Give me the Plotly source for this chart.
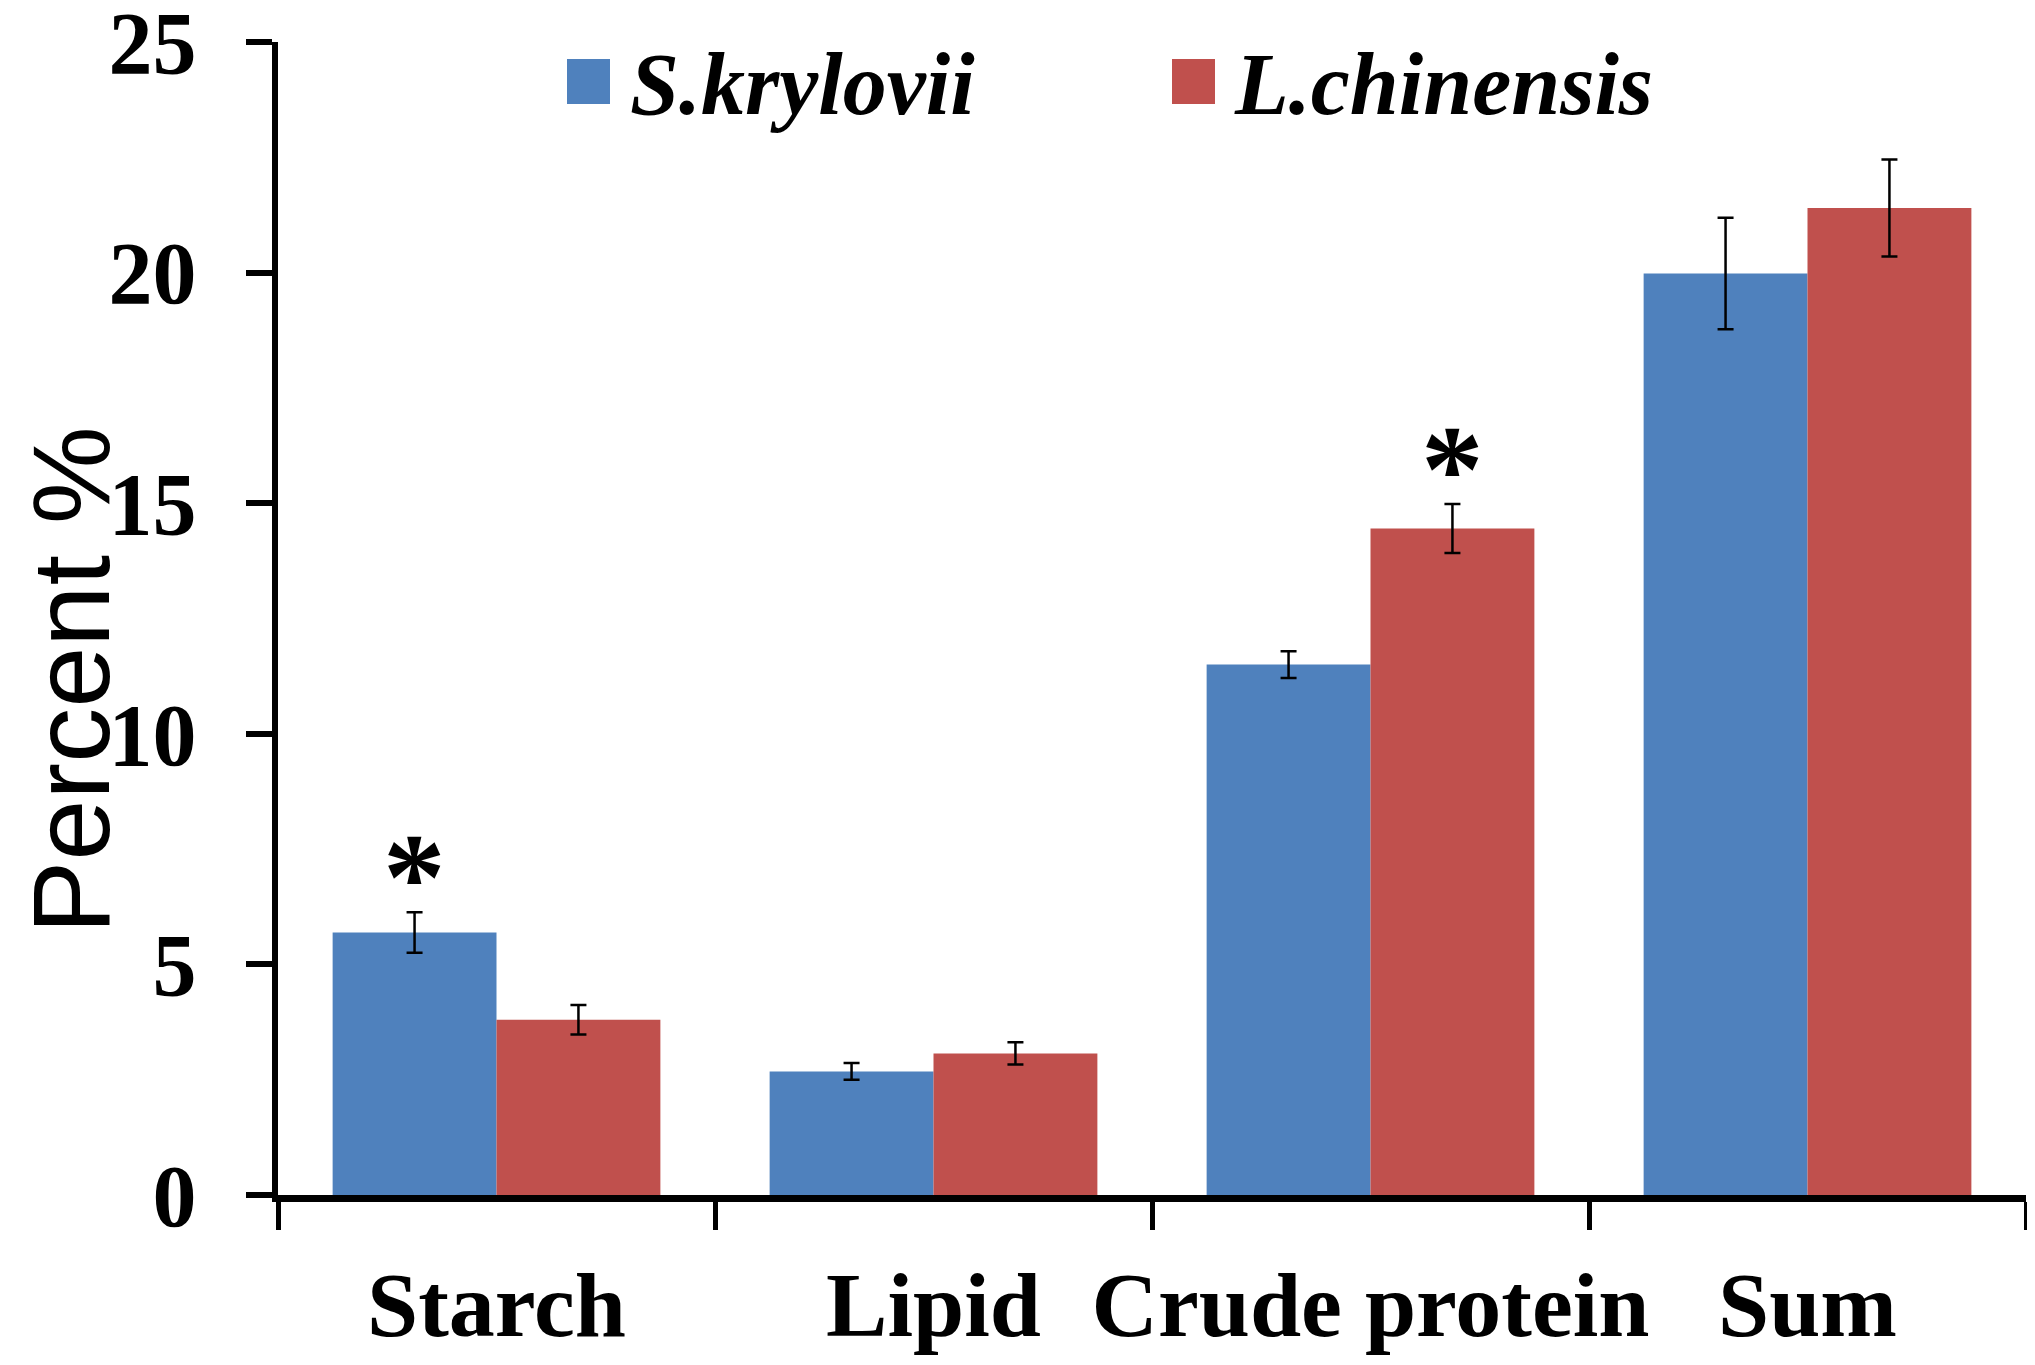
import plotly.graph_objects as go

categories = ["Starch", "Lipid", "Crude protein", "Sum"]
series_names = ["S.krylovii", "L.chinensis"]
s_krylovii = [5.69, 2.68, 11.50, 19.98]
s_krylovii_err = [0.44, 0.18, 0.29, 1.21]
l_chinensis = [3.80, 3.07, 14.45, 21.40]
l_chinensis_err = [0.32, 0.24, 0.53, 1.05]
colors = ["#4F81BD", "#C0504D"]
y_ticks = [0, 5, 10, 15, 20, 25]
# significance marks: (category index, series index)
stars = [(0, 0), (2, 1)]

# the page body adds an 8px offset, so the figure is 8px smaller than the window
W, H = 2027, 1357
L, R, T, B = 270, 9, 34, 170
bargap = 0.25

fig = go.Figure()
for name, vals, errs, col in [
    (series_names[0], s_krylovii, s_krylovii_err, colors[0]),
    (series_names[1], l_chinensis, l_chinensis_err, colors[1]),
]:
    fig.add_trace(go.Bar(
        x=categories, y=vals, name=name, marker=dict(color=col, line=dict(width=0)),
        error_y=dict(type="data", array=errs, visible=True, color="black",
                     thickness=2.5, width=8),
        showlegend=False,
    ))

serif = "Liberation Serif, Times New Roman, serif"

fig.update_layout(
    width=W, height=H, margin=dict(l=L, r=R, t=T, b=B, autoexpand=False),
    paper_bgcolor="white", plot_bgcolor="white",
    barmode="group", bargap=bargap, bargroupgap=0,
    xaxis=dict(
        showgrid=False, showline=True, linecolor="black", linewidth=7,
        ticks="outside", tickson="boundaries", ticklen=28, tickwidth=5,
        tickcolor="black", tickangle=0, automargin=False,
        tickfont=dict(family=serif, size=92, color="black", weight=700),
        ticklabelstandoff=24, zeroline=False, ticklabeloverflow="allow",
    ),
    yaxis=dict(
        range=[0, 25], tickvals=y_ticks, showgrid=False, zeroline=False,
        showline=True, linecolor="black", linewidth=6, automargin=False,
        ticks="outside", ticklen=26, tickwidth=6, tickcolor="black",
        tickfont=dict(family=serif, size=88, color="black", weight=700),
        ticklabelstandoff=32, ticklabeloverflow="allow",
    ),
)

pw = W - L - R
ph = H - T - B
def px2x(px):
    return (px - L) / pw
def px2y(py):
    return (H - B - py) / ph

# legend drawn manually (figure pixel positions)
fig.add_shape(type="rect", xref="paper", yref="paper",
              x0=px2x(559), x1=px2x(602), y0=px2y(96), y1=px2y(51),
              fillcolor=colors[0], line=dict(width=0))
fig.add_shape(type="rect", xref="paper", yref="paper",
              x0=px2x(1164), x1=px2x(1207), y0=px2y(96), y1=px2y(51),
              fillcolor=colors[1], line=dict(width=0))
fig.add_annotation(xref="paper", yref="paper", x=px2x(620), y=px2y(76),
                   xanchor="left", yanchor="middle", showarrow=False,
                   text=series_names[0],
                   font=dict(family=serif, size=88, color="black", weight=700, style="italic"))
fig.add_annotation(xref="paper", yref="paper", x=px2x(1224), y=px2y(76),
                   xanchor="left", yanchor="middle", showarrow=False,
                   text=series_names[1],
                   font=dict(family=serif, size=88, color="black", weight=700, style="italic"))

# y title
fig.add_annotation(xref="paper", yref="paper", x=px2x(62), y=px2y(673),
                   xanchor="center", yanchor="middle", showarrow=False,
                   textangle=-90, text="Percent %",
                   font=dict(family="Liberation Sans, Arial, sans-serif", size=110, color="black"))

# significance stars
off = (1 - bargap) / 4
all_vals = [s_krylovii, l_chinensis]
all_errs = [s_krylovii_err, l_chinensis_err]
for ci, si in stars:
    xpos = ci + (-off if si == 0 else off)
    fig.add_annotation(x=xpos, y=all_vals[si][ci] + all_errs[si][ci],
                       xref="x", yref="y", yanchor="bottom", xanchor="center",
                       showarrow=False, text="*", yshift=-36,
                       font=dict(family=serif, size=125, color="black", weight=700))

fig.write_html("out.html")
